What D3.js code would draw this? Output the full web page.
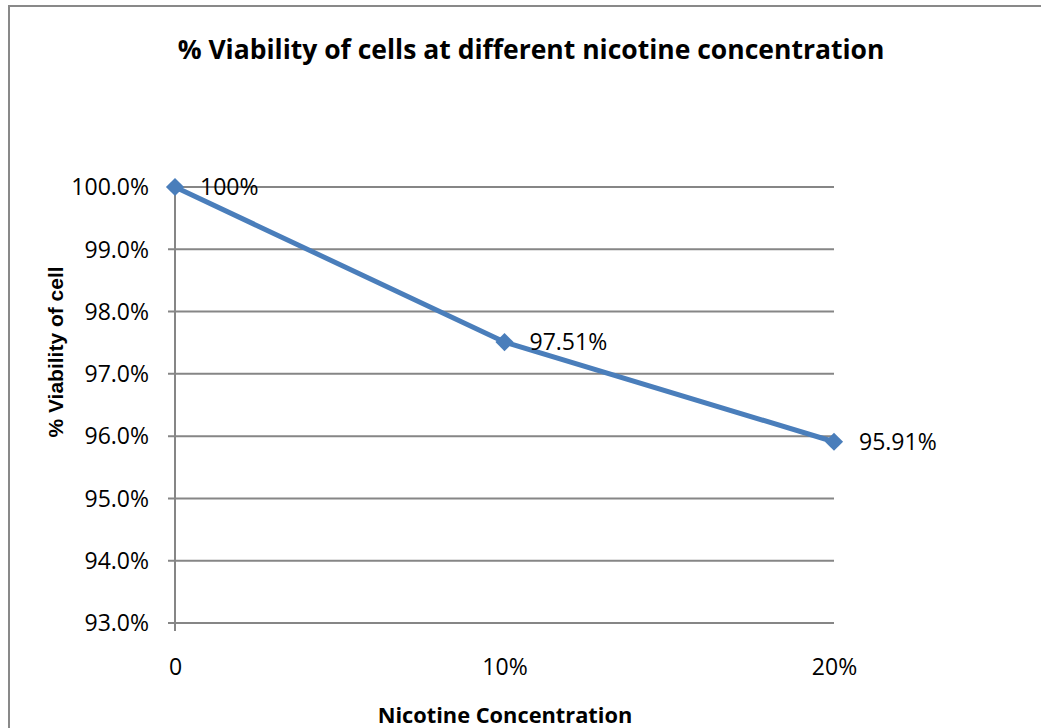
<!DOCTYPE html>
<html>
<head>
<meta charset="utf-8">
<script src="https://cdn.jsdelivr.net/npm/d3@7"></script>
<style>
html, body { margin: 0; padding: 0; background: #fff; }
svg { display: block; }
</style>
</head>
<body>
<svg id="chart" width="1041" height="728"></svg>
<script>
const categories = ["0", "10%", "20%"];
const values = [100, 97.51, 95.91];
const dataLabels = ["100%", "97.51%", "95.91%"];
const yTicks = [93, 94, 95, 96, 97, 98, 99, 100];
const titleText = "% Viability of cells at different nicotine concentration";
const xTitle = "Nicotine Concentration";
const yTitle = "% Viability of cell";

(function () {
const svg = d3.select("#chart");
const pLeft = 175, pRight = 834, pTop = 187, pBottom = 623;
const gridColor = "#868686";
const lineColor = "#4a7ebb";
const tickFont = "'Open Sans', sans-serif";

// outer border
svg.append("rect").attr("x", 9).attr("y", 6).attr("width", 1040).attr("height", 740)
  .attr("fill", "#fff").attr("stroke", "#898989").attr("stroke-width", 2);

const x = d3.scalePoint().domain(categories).range([pLeft, pRight]);
const y = d3.scaleLinear().domain([93, 100]).range([pBottom, pTop]);

// gridlines + y axis labels
const yg = svg.append("g").attr("transform", `translate(${pLeft},0)`);
yTicks.forEach(t => {
  yg.append("line").attr("x1", -7).attr("x2", pRight - pLeft).attr("y1", y(t)).attr("y2", y(t))
    .attr("stroke", gridColor).attr("stroke-width", 2);
  yg.append("text").attr("x", -26).attr("y", y(t)).attr("dy", "0.36em")
    .attr("text-anchor", "end").attr("font-family", tickFont).attr("font-size", 23)
    .attr("fill", "#000").text(d3.format(".1f")(t) + "%");
});
// vertical axis line
yg.append("line").attr("x1", 0).attr("x2", 0).attr("y1", pTop).attr("y2", pBottom + 8)
  .attr("stroke", gridColor).attr("stroke-width", 2);

// x axis labels
const xg = svg.append("g").attr("transform", `translate(0,${pBottom})`);
const xAxis = d3.axisBottom(x).tickSize(0).tickPadding(0);
xg.call(xAxis);
xg.select(".domain").remove();
xg.selectAll("text").attr("font-family", tickFont).attr("font-size", 23)
  .attr("fill", "#000").attr("dy", null).attr("y", 52);

// line
const line = d3.line().x((d, i) => x(categories[i])).y(d => y(d));
svg.append("path").datum(values).attr("d", line).attr("fill", "none")
  .attr("stroke", lineColor).attr("stroke-width", 5).attr("stroke-linejoin", "round");

// markers
svg.selectAll(".marker").data(values).enter().append("path")
  .attr("class", "marker")
  .attr("transform", (d, i) => `translate(${x(categories[i])},${y(d)})`)
  .attr("d", d3.symbol().type(d3.symbolDiamond2).size(210))
  .attr("fill", lineColor);

// data labels
svg.selectAll(".dlabel").data(values).enter().append("text")
  .attr("x", (d, i) => x(categories[i]) + 25).attr("y", d => y(d)).attr("dy", "0.36em")
  .attr("font-family", tickFont).attr("font-size", 23).attr("fill", "#000")
  .text((d, i) => dataLabels[i]);

// titles
svg.append("text").attr("x", 531).attr("y", 59).attr("text-anchor", "middle")
  .attr("font-family", "'Open Sans', sans-serif").attr("font-weight", "bold").attr("font-size", 26.5)
  .attr("fill", "#000").text(titleText);
svg.append("text").attr("x", 505).attr("y", 723).attr("text-anchor", "middle")
  .attr("font-family", "'Open Sans', sans-serif").attr("font-weight", "bold").attr("font-size", 21.8)
  .attr("fill", "#000").text(xTitle);
svg.append("text").attr("transform", "translate(63,352) rotate(-90)").attr("text-anchor", "middle")
  .attr("font-family", "'Liberation Sans', Arial, sans-serif").attr("font-weight", "bold").attr("font-size", 21)
  .attr("fill", "#000").text(yTitle);
})();
</script>
</body>
</html>
